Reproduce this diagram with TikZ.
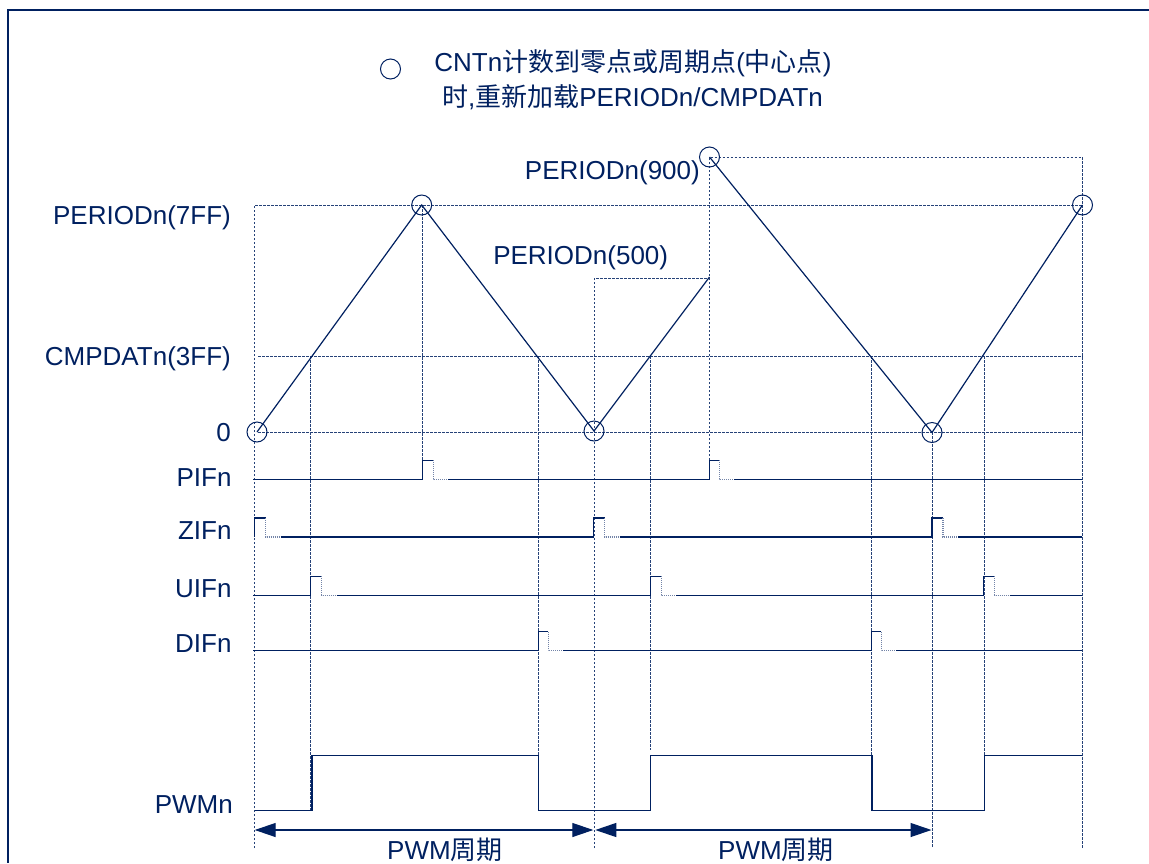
\documentclass[tikz,border=0pt]{standalone}
\usepackage{fontspec}
\setmainfont{Liberation Sans}
\newfontfamily\cjk{Noto Sans CJK SC}
\usepackage{tikz}
\usetikzlibrary{arrows.meta}
\definecolor{navy}{RGB}{0,32,96}

\tikzset{
  sig/.style={navy, line width=1.2pt},
  tail/.style={navy!55, line width=1.2pt, dash pattern=on 1pt off 1pt},
  guide/.style={navy!85, line width=0.9pt, dash pattern=on 2.5pt off 1.5pt},
  ring/.style={circle, draw=navy, line width=1pt, minimum size=20pt, inner sep=0pt},
  lbl/.style={text=navy, font=\fontsize{26}{31}\selectfont, inner sep=0pt},
  span/.style={navy, line width=1.2pt, {Triangle[length=21pt,width=14pt]}-{Triangle[length=21pt,width=14pt]}}
}

\begin{document}
\begin{tikzpicture}[x=1pt,y=-1pt]
        \useasboundingbox (0,0) rectangle (1149,863);
        \draw [navy, line width=1.5pt] (1149,10) -- (8,10) -- (8,863);
        % legend
        \node [ring] (key) at (390.5,69) {};
        \node [lbl, anchor=base] (keytxt) at (633,71) {CNTn{\cjk 计数到零点或周期点}({\cjk 中心点})};
        \node [lbl, anchor=base] (keytxt2) at (632.5,106) {{\cjk 时},{\cjk 重新加载}PERIODn/CMPDATn};
        % counter levels
        \node [lbl, anchor=base east] (lper) at (231,224) {PERIODn(7FF)};
        \node [lbl, anchor=base east] (lcmp) at (231,365) {CMPDATn(3FF)};
        \node [lbl, anchor=base east] (lzero) at (231,441.7) {0};
        \node [lbl, anchor=base east] (lp900) at (700,179.3) {PERIODn(900)};
        \node [lbl, anchor=base east] (lp500) at (668.3,264) {PERIODn(500)};
        \node [lbl, anchor=base east] (lpif) at (231.7,486) {PIFn};
        \node [lbl, anchor=base east] (lzif) at (231.7,539.3) {ZIFn};
        \node [lbl, anchor=base east] (luif) at (231.7,597.7) {UIFn};
        \node [lbl, anchor=base east] (ldif) at (231.7,652.7) {DIFn};
        \node [lbl, anchor=base east] (lpwm) at (233,813.3) {PWMn};
        % guide lines
        \draw [guide] (254,848) -- (254,205) -- (1082.5,205);
        \draw [guide] (709.5,460) -- (709.5,157) -- (1082.5,157) -- (1082.5,848);
        \draw [guide] (594,848) -- (594,278) -- (709.5,278);
        \draw [guide] (258,356) -- (1082.5,356);
        \draw [guide] (258,432) -- (1082.5,432);
        \draw [guide] (310.5,356) -- (310.5,810);
        \draw [guide] (422,205) -- (422,460);
        \draw [guide] (538,356) -- (538,756);
        \draw [guide] (650.5,356) -- (650.5,750);
        \draw [guide] (871,356) -- (871,756);
        \draw [guide] (932,432) -- (932,848);
        \draw [guide] (984,356) -- (984,756);
        % counter
        \node [ring] (z1) at (257,432) {};
        \node [ring] (p1) at (421.7,205) {};
        \node [ring] (z2) at (594,431) {};
        \coordinate (r500) at (709.5,277);
        \node [ring] (p9) at (709.5,157) {};
        \node [ring] (z3) at (932,432.5) {};
        \node [ring] (p2) at (1082.5,205) {};
        \draw [sig] (z1.center) -- (p1.center) -- (z2.center) -- (r500);
        \draw [sig] (p9.center) -- (z3.center) -- (p2.center);
        % PIFn
        \draw [sig] (253.3,479.3) -- (422.3,479.3) -- ++(0,-19) -- ++(11,0);
        \draw [tail] (433.3,460.3) -- (433.3,479.3) -- ++(15,0);
        \draw [sig] (448.3,479.3) -- (709.3,479.3) -- ++(0,-19) -- ++(10,0);
        \draw [tail] (719.3,460.3) -- (719.3,479.3) -- ++(15,0);
        \draw [sig] (734.3,479.3) -- (1082,479.3);
        % ZIFn
        \draw [sig] (254.7,537) -- ++(0,-19) -- ++(11,0);
        \draw [tail] (265.7,518) -- (265.7,537) -- ++(15,0);
        \draw [sig] (280.7,537) -- (593.7,537) -- ++(0,-19) -- ++(11,0);
        \draw [tail] (604.7,518) -- (604.7,537) -- ++(15,0);
        \draw [sig] (619.7,537) -- (932,537) -- ++(0,-19) -- ++(11,0);
        \draw [tail] (943,518) -- (943,537) -- ++(15,0);
        \draw [sig] (958,537) -- (1082,537);
        % UIFn
        \draw [sig] (253.3,595.3) -- (310.7,595.3) -- ++(0,-19) -- ++(11,0);
        \draw [tail] (321.7,576.3) -- (321.7,595.3) -- ++(15,0);
        \draw [sig] (336.7,595.3) -- (650.3,595.3) -- ++(0,-19) -- ++(11,0);
        \draw [tail] (661.3,576.3) -- (661.3,595.3) -- ++(15,0);
        \draw [sig] (676.3,595.3) -- (983.7,595.3) -- ++(0,-19) -- ++(11,0);
        \draw [tail] (994.7,576.3) -- (994.7,595.3) -- ++(15,0);
        \draw [sig] (1009.7,595.3) -- (1082,595.3);
        % DIFn
        \draw [sig] (253.3,650.7) -- (538.3,650.7) -- ++(0,-19) -- ++(10,0);
        \draw [tail] (548.3,631.7) -- (548.3,650.7) -- ++(15,0);
        \draw [sig] (563.3,650.7) -- (871.3,650.7) -- ++(0,-19) -- ++(10,0);
        \draw [tail] (881.3,631.7) -- (881.3,650.7) -- ++(15,0);
        \draw [sig] (896.3,650.7) -- (1082,650.7);
        % PWMn
        \draw [sig] (254.7,810.3) -- (312,810.3) -- (312,755.7) -- (538.3,755.7) -- (538.3,810.3)
                -- (650.3,810.3) -- (650.3,755.7) -- (872,755.7) -- (872,810.3)
                -- (984.3,810.3) -- (984.3,755.7) -- (1082,755.7);
        % periods
        \coordinate (a1) at (254.7,830);
        \coordinate (a2) at (593.3,830);
        \coordinate (a3) at (595.3,830);
        \coordinate (a4) at (931.5,830);
        \draw [span] (a1) -- (a2);
        \draw [span] (a3) -- (a4);
        \node [lbl, anchor=base] (t1) at (445,859.5) {PWM{\cjk 周期}};
        \node [lbl, anchor=base] (t2) at (776,859.5) {PWM{\cjk 周期}};
\end{tikzpicture}
\end{document}
